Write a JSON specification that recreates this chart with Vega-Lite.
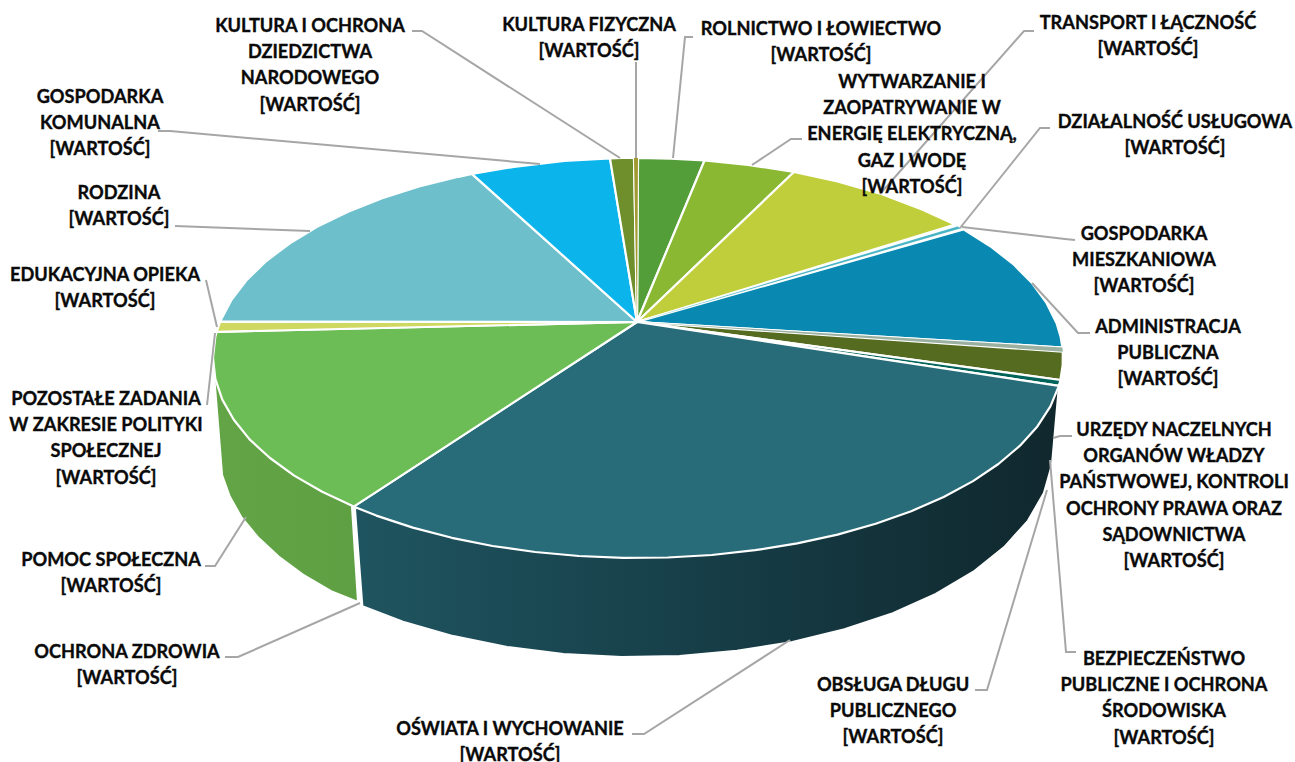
{"$schema":"https://vega.github.io/schema/vega-lite/v6.json","description":"3D-style pie of budget sections. The source prints only the placeholder [WARTOŚĆ], so no numbers are readable; slice and wall outlines are estimated from the picture, because arc marks cannot draw a tilted pie.","width":1295,"height":762,"padding":0,"autosize":{"type":"none"},"background":"white","config":{"view":{"stroke":null}},
"datasets":{
"walls":[
{"part":"a","i":1,"x":637,"y":322},{"part":"a","i":2,"x":1058.9,"y":385.8},{"part":"a","i":3,"x":1052,"y":464.4},{"part":"a","i":4,"x":1043.9,"y":493},{"part":"a","i":5,"x":1027.9,"y":520.8},{"part":"a","i":6,"x":1004.2,"y":547.1},{"part":"a","i":7,"x":973.4,"y":571.7},{"part":"a","i":8,"x":935.8,"y":593.9},{"part":"a","i":9,"x":892.9,"y":613.1},{"part":"a","i":10,"x":844.5,"y":629.3},{"part":"a","i":11,"x":792.4,"y":641.9},{"part":"a","i":12,"x":736.9,"y":650.8},{"part":"a","i":13,"x":679.6,"y":655.9},{"part":"a","i":14,"x":621.4,"y":656.9},{"part":"a","i":15,"x":563.4,"y":653.9},{"part":"a","i":16,"x":507.1,"y":646.9},{"part":"a","i":17,"x":453.4,"y":636.1},{"part":"a","i":18,"x":402.9,"y":621.6},{"part":"a","i":19,"x":362.4,"y":606.3},{"part":"a","i":20,"x":355,"y":509},{"part":"a","i":21,"x":637,"y":322},
{"part":"b","i":1,"x":637,"y":322},{"part":"b","i":2,"x":352,"y":507},{"part":"b","i":3,"x":358,"y":602},{"part":"b","i":4,"x":331.1,"y":591.2},{"part":"b","i":5,"x":302.9,"y":574.6},{"part":"b","i":6,"x":278.6,"y":556.6},{"part":"b","i":7,"x":258.2,"y":537.6},{"part":"b","i":8,"x":241.5,"y":517.4},{"part":"b","i":9,"x":229.8,"y":496.6},{"part":"b","i":10,"x":222.1,"y":475.2},{"part":"b","i":11,"x":218.5,"y":430},{"part":"b","i":12,"x":214.5,"y":380},{"part":"b","i":13,"x":637,"y":322}],
"slices":[
{"s":"rolnictwo","i":1,"x":637,"y":322},{"s":"rolnictwo","i":2,"x":638,"y":158},{"s":"rolnictwo","i":3,"x":671,"y":158.6},{"s":"rolnictwo","i":4,"x":704.5,"y":160.5},{"s":"rolnictwo","i":5,"x":637,"y":322},
{"s":"energia","i":1,"x":637,"y":322},{"s":"energia","i":2,"x":704.5,"y":160.5},{"s":"energia","i":3,"x":748,"y":164.8},{"s":"energia","i":4,"x":794,"y":172},{"s":"energia","i":5,"x":637,"y":322},
{"s":"transport","i":1,"x":637,"y":322},{"s":"transport","i":2,"x":794,"y":172},{"s":"transport","i":3,"x":837.5,"y":181.4},{"s":"transport","i":4,"x":882,"y":194.2},{"s":"transport","i":5,"x":922,"y":209.4},{"s":"transport","i":6,"x":955,"y":224.6},{"s":"transport","i":7,"x":637,"y":322},
{"s":"uslugi","i":1,"x":637,"y":322},{"s":"uslugi","i":2,"x":957.5,"y":226.5},{"s":"uslugi","i":3,"x":961,"y":228.3},{"s":"uslugi","i":4,"x":637,"y":322},
{"s":"admin","i":1,"x":637,"y":322},{"s":"admin","i":2,"x":963.5,"y":229.4},{"s":"admin","i":3,"x":990.3,"y":246.2},{"s":"admin","i":4,"x":1013.3,"y":264.1},{"s":"admin","i":5,"x":1032,"y":283},{"s":"admin","i":6,"x":1046.5,"y":302.9},{"s":"admin","i":7,"x":1056.6,"y":323.3},{"s":"admin","i":8,"x":1060.7,"y":337},{"s":"admin","i":9,"x":1062.4,"y":347.5},{"s":"admin","i":10,"x":637,"y":322},
{"s":"urzedy","i":1,"x":637,"y":322},{"s":"urzedy","i":2,"x":1062.4,"y":347.5},{"s":"urzedy","i":3,"x":1062.8,"y":351.7},{"s":"urzedy","i":4,"x":637,"y":322},
{"s":"bezp","i":1,"x":637,"y":322},{"s":"bezp","i":2,"x":1062.8,"y":351.7},{"s":"bezp","i":3,"x":1062.7,"y":365},{"s":"bezp","i":4,"x":1060.4,"y":380},{"s":"bezp","i":5,"x":637,"y":322},
{"s":"dlug","i":1,"x":637,"y":322},{"s":"dlug","i":2,"x":1060.4,"y":380},{"s":"dlug","i":3,"x":1058.9,"y":385.8},{"s":"dlug","i":4,"x":637,"y":322},
{"s":"oswiata","i":1,"x":637,"y":322},{"s":"oswiata","i":2,"x":1058.9,"y":385.8},{"s":"oswiata","i":3,"x":1050.4,"y":406.4},{"s":"oswiata","i":4,"x":1037.4,"y":426.4},{"s":"oswiata","i":5,"x":1020,"y":445.7},{"s":"oswiata","i":6,"x":998.4,"y":464},{"s":"oswiata","i":7,"x":973,"y":481.1},{"s":"oswiata","i":8,"x":943.7,"y":497},{"s":"oswiata","i":9,"x":911.2,"y":511.2},{"s":"oswiata","i":10,"x":875.7,"y":523.8},{"s":"oswiata","i":11,"x":837.5,"y":534.6},{"s":"oswiata","i":12,"x":797.2,"y":543.4},{"s":"oswiata","i":13,"x":755.1,"y":550.2},{"s":"oswiata","i":14,"x":711.8,"y":555},{"s":"oswiata","i":15,"x":667.7,"y":557.5},{"s":"oswiata","i":16,"x":623.2,"y":557.9},{"s":"oswiata","i":17,"x":578.9,"y":556},{"s":"oswiata","i":18,"x":535.2,"y":552},{"s":"oswiata","i":19,"x":492.6,"y":546},{"s":"oswiata","i":20,"x":451.8,"y":537.8},{"s":"oswiata","i":21,"x":412.8,"y":527.6},{"s":"oswiata","i":22,"x":376.3,"y":515.6},{"s":"oswiata","i":23,"x":353.7,"y":506.6},{"s":"oswiata","i":24,"x":637,"y":322},
{"s":"zdrowie","i":1,"x":637,"y":322},{"s":"zdrowie","i":2,"x":353.7,"y":506.6},{"s":"zdrowie","i":3,"x":322.2,"y":491.8},{"s":"zdrowie","i":4,"x":294.2,"y":475.6},{"s":"zdrowie","i":5,"x":270,"y":458},{"s":"zdrowie","i":6,"x":249.6,"y":439.4},{"s":"zdrowie","i":7,"x":233.8,"y":419.8},{"s":"zdrowie","i":8,"x":222.3,"y":399.6},{"s":"zdrowie","i":9,"x":215.3,"y":378.9},{"s":"zdrowie","i":10,"x":213,"y":358},{"s":"zdrowie","i":11,"x":215.3,"y":337},{"s":"zdrowie","i":12,"x":216.6,"y":331.9},{"s":"zdrowie","i":13,"x":637,"y":322},
{"s":"edukacja","i":1,"x":637,"y":322},{"s":"edukacja","i":2,"x":216.6,"y":331.9},{"s":"edukacja","i":3,"x":220.1,"y":321.6},{"s":"edukacja","i":4,"x":637,"y":322},
{"s":"rodzina","i":1,"x":637,"y":322},{"s":"rodzina","i":2,"x":220.1,"y":321.6},{"s":"rodzina","i":3,"x":231.7,"y":299.6},{"s":"rodzina","i":4,"x":246.8,"y":279.9},{"s":"rodzina","i":5,"x":266.3,"y":261},{"s":"rodzina","i":6,"x":289.9,"y":243.3},{"s":"rodzina","i":7,"x":317.1,"y":226.8},{"s":"rodzina","i":8,"x":348.1,"y":211.7},{"s":"rodzina","i":9,"x":382.2,"y":198.3},{"s":"rodzina","i":10,"x":419.1,"y":186.5},{"s":"rodzina","i":11,"x":458.4,"y":176.8},{"s":"rodzina","i":12,"x":471.9,"y":173.9},{"s":"rodzina","i":13,"x":637,"y":322},
{"s":"komunalna","i":1,"x":637,"y":322},{"s":"komunalna","i":2,"x":471.9,"y":173.9},{"s":"komunalna","i":3,"x":513.9,"y":166.8},{"s":"komunalna","i":4,"x":564.2,"y":161},{"s":"komunalna","i":5,"x":610,"y":158.4},{"s":"komunalna","i":6,"x":637,"y":322},
{"s":"kultura","i":1,"x":637,"y":322},{"s":"kultura","i":2,"x":610,"y":158.4},{"s":"kultura","i":3,"x":622,"y":158},{"s":"kultura","i":4,"x":634,"y":158},{"s":"kultura","i":5,"x":637,"y":322},
{"s":"fizyczna","i":1,"x":637,"y":322},{"s":"fizyczna","i":2,"x":634,"y":158},{"s":"fizyczna","i":3,"x":638,"y":158},{"s":"fizyczna","i":4,"x":637,"y":322}],
"leaders":[
{"l":1,"i":1,"x":412,"y":31},{"l":1,"i":2,"x":422,"y":31},{"l":1,"i":3,"x":620,"y":158},
{"l":2,"i":1,"x":636,"y":62},{"l":2,"i":2,"x":636,"y":158},
{"l":3,"i":1,"x":693,"y":37},{"l":3,"i":2,"x":685,"y":37},{"l":3,"i":3,"x":673,"y":158},
{"l":4,"i":1,"x":802,"y":139},{"l":4,"i":2,"x":791,"y":139},{"l":4,"i":3,"x":752,"y":165},
{"l":5,"i":1,"x":1034,"y":31},{"l":5,"i":2,"x":1024,"y":31},{"l":5,"i":3,"x":880,"y":194},
{"l":6,"i":1,"x":1050,"y":128},{"l":6,"i":2,"x":1040,"y":128},{"l":6,"i":3,"x":960,"y":228},
{"l":7,"i":1,"x":1075,"y":240},{"l":7,"i":2,"x":1065,"y":239},{"l":7,"i":3,"x":962,"y":227},
{"l":8,"i":1,"x":1090,"y":333},{"l":8,"i":2,"x":1078,"y":333},{"l":8,"i":3,"x":1032,"y":283},
{"l":9,"i":1,"x":1072,"y":436},{"l":9,"i":2,"x":1060,"y":436},{"l":9,"i":3,"x":1053,"y":438},
{"l":10,"i":1,"x":1076,"y":652},{"l":10,"i":2,"x":1066,"y":652},{"l":10,"i":3,"x":1050,"y":460},
{"l":11,"i":1,"x":975,"y":690},{"l":11,"i":2,"x":987,"y":690},{"l":11,"i":3,"x":1047,"y":490},
{"l":12,"i":1,"x":632,"y":734},{"l":12,"i":2,"x":644,"y":734},{"l":12,"i":3,"x":790,"y":640},
{"l":13,"i":1,"x":225,"y":657},{"l":13,"i":2,"x":238,"y":657},{"l":13,"i":3,"x":360,"y":603},
{"l":14,"i":1,"x":205,"y":566},{"l":14,"i":2,"x":215,"y":566},{"l":14,"i":3,"x":246,"y":517},
{"l":15,"i":1,"x":207,"y":405},{"l":15,"i":2,"x":215,"y":333},
{"l":16,"i":1,"x":206,"y":280},{"l":16,"i":2,"x":217,"y":327},
{"l":17,"i":1,"x":175,"y":226},{"l":17,"i":2,"x":310,"y":231},
{"l":18,"i":1,"x":158,"y":131},{"l":18,"i":2,"x":170,"y":131},{"l":18,"i":3,"x":540,"y":164}],
"labels":[
{"t":"KULTURA I OCHRONA\nDZIEDZICTWA\nNARODOWEGO\n[WARTOŚĆ]","x":310,"y":25},
{"t":"KULTURA FIZYCZNA\n[WARTOŚĆ]","x":589,"y":24},
{"t":"ROLNICTWO I ŁOWIECTWO\n[WARTOŚĆ]","x":821,"y":28},
{"t":"WYTWARZANIE I\nZAOPATRYWANIE W\nENERGIĘ ELEKTRYCZNĄ,\nGAZ I WODĘ\n[WARTOŚĆ]","x":912,"y":81},
{"t":"TRANSPORT I ŁĄCZNOŚĆ\n[WARTOŚĆ]","x":1148,"y":22},
{"t":"DZIAŁALNOŚĆ USŁUGOWA\n[WARTOŚĆ]","x":1175,"y":121},
{"t":"GOSPODARKA\nMIESZKANIOWA\n[WARTOŚĆ]","x":1144,"y":233},
{"t":"ADMINISTRACJA\nPUBLICZNA\n[WARTOŚĆ]","x":1168,"y":326},
{"t":"URZĘDY NACZELNYCH\nORGANÓW WŁADZY\nPAŃSTWOWEJ, KONTROLI\nOCHRONY PRAWA ORAZ\nSĄDOWNICTWA\n[WARTOŚĆ]","x":1174,"y":429},
{"t":"BEZPIECZEŃSTWO\nPUBLICZNE I OCHRONA\nŚRODOWISKA\n[WARTOŚĆ]","x":1164,"y":658},
{"t":"OBSŁUGA DŁUGU\nPUBLICZNEGO\n[WARTOŚĆ]","x":893,"y":684},
{"t":"OŚWIATA I WYCHOWANIE\n[WARTOŚĆ]","x":510,"y":728},
{"t":"OCHRONA ZDROWIA\n[WARTOŚĆ]","x":127,"y":651},
{"t":"POMOC SPOŁECZNA\n[WARTOŚĆ]","x":111,"y":559},
{"t":"POZOSTAŁE ZADANIA\nW ZAKRESIE POLITYKI\nSPOŁECZNEJ\n[WARTOŚĆ]","x":106,"y":398},
{"t":"EDUKACYJNA OPIEKA\n[WARTOŚĆ]","x":105,"y":274},
{"t":"RODZINA\n[WARTOŚĆ]","x":119,"y":192},
{"t":"GOSPODARKA\nKOMUNALNA\n[WARTOŚĆ]","x":100,"y":96}]},
"encoding":{"x":{"field":"x","type":"quantitative","scale":{"domain":[0,1295],"nice":false,"zero":false},"axis":null},"y":{"field":"y","type":"quantitative","scale":{"domain":[762,0],"nice":false,"zero":false},"axis":null}},
"layer":[
{"data":{"name":"walls"},"transform":[{"filter":"datum.part==='a'"}],"mark":{"type":"line","stroke":"white","strokeWidth":2,"fill":{"gradient":"linear","x1":0,"y1":0,"x2":1,"y2":0,"stops":[{"offset":0,"color":"#1F5560"},{"offset":0.45,"color":"#17404A"},{"offset":1,"color":"#10272D"}]}},"encoding":{"order":{"field":"i","type":"quantitative"}}},
{"data":{"name":"walls"},"transform":[{"filter":"datum.part==='b'"}],"mark":{"type":"line","stroke":"white","strokeWidth":2,"fill":{"gradient":"linear","x1":0,"y1":0,"x2":1,"y2":0,"stops":[{"offset":0,"color":"#62A446"},{"offset":1,"color":"#58963D"}]}},"encoding":{"order":{"field":"i","type":"quantitative"}}},
{"data":{"name":"slices"},"mark":{"type":"line","stroke":"white","strokeWidth":2.2,"strokeJoin":"round"},"encoding":{"detail":{"field":"s"},"order":{"field":"i","type":"quantitative"},"fill":{"field":"s","type":"nominal","legend":null,"scale":{"domain":["rolnictwo","energia","transport","uslugi","admin","urzedy","bezp","dlug","oswiata","zdrowie","edukacja","rodzina","komunalna","kultura","fizyczna"],"range":["#549E39","#8AB833","#BFCE3A","#4AB5C4","#0989B1","#9AB0A0","#556B1F","#00645A","#276C78","#6DBD56","#CFD860","#6DBFCC","#0BB5EC","#6E8F2B","#A09A30"]}}}},
{"data":{"name":"slices"},"transform":[{"filter":"datum.s==='uslugi'||datum.s==='urzedy'||datum.s==='fizyczna'"}],"mark":{"type":"line","strokeWidth":0},"encoding":{"detail":{"field":"s"},"order":{"field":"i","type":"quantitative"},"fill":{"field":"s","type":"nominal","legend":null,"scale":{"domain":["rolnictwo","energia","transport","uslugi","admin","urzedy","bezp","dlug","oswiata","zdrowie","edukacja","rodzina","komunalna","kultura","fizyczna"],"range":["#549E39","#8AB833","#BFCE3A","#4AB5C4","#0989B1","#9AB0A0","#556B1F","#00645A","#276C78","#6DBD56","#CFD860","#6DBFCC","#0BB5EC","#6E8F2B","#A09A30"]}}}},
{"data":{"name":"leaders"},"mark":{"type":"line","stroke":"#A6A6A6","strokeWidth":2},"encoding":{"detail":{"field":"l"},"order":{"field":"i","type":"quantitative"}}},
{"data":{"name":"labels"},"mark":{"type":"text","font":"Lato","fontWeight":"bold","fontSize":18.2,"lineHeight":26.2,"lineBreak":"\n","align":"center","baseline":"middle","dy":2,"color":"#0A0A0A","stroke":"#0A0A0A","strokeWidth":0.35},"encoding":{"text":{"field":"t"}}}
]}
